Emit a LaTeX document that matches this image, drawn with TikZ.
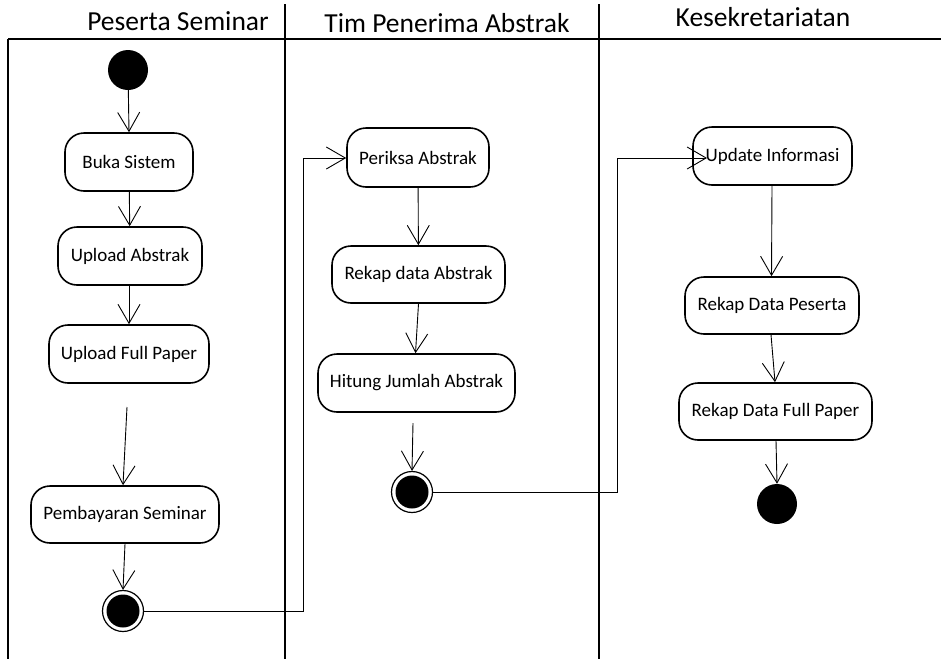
\documentclass[tikz,border=0pt]{standalone}
\usepackage{fontspec}
\setmainfont{Carlito}
\usetikzlibrary{arrows.meta}
\begin{document}
\begin{tikzpicture}[x=1pt,y=-1pt,
  act/.style={draw=black, line width=1.6pt, rounded corners=19pt, fill=white,
    inner sep=0pt, font=\fontsize{19}{21}\selectfont},
  hdr/.style={anchor=base, inner sep=0pt, font=\fontsize{27.5}{30}\selectfont},
  lane/.style={line width=1.8pt, black},
  flow/.style={line width=0.9pt, -{Straight Barb[length=19pt,width=22pt,line width=0.9pt]}},
  startnode/.style={circle, fill=black, minimum size=40pt, inner sep=0pt},
  endnode/.style={circle, draw=black, line width=1.2pt, fill=white, minimum size=41pt, inner sep=0pt,
    path picture={\fill[black] (path picture bounding box.center) circle (16.5pt);}}
]
\useasboundingbox (0,0) rectangle (941,659);
% frame
\draw[lane] (8,39) -- (941,39);
\draw[lane] (8,39) -- (8,659);
\draw[lane] (285,4) -- (285,659);
\draw[lane] (599,4) -- (599,659);
% headers
\node[hdr] (h1) at (178,30) {Peserta Seminar};
\node[hdr] (h2) at (447,32) {Tim Penerima Abstrak};
\node[hdr] (h3) at (763,26) {Kesekretariatan};
% lane 1
\node[startnode] (s1) at (128,70) {};
\node[act, minimum width=128pt, minimum height=58pt] (buka) at (129,162) {Buka Sistem};
\node[act, minimum width=144pt, minimum height=58pt] (upabs) at (130,256) {Upload Abstrak};
\node[act, minimum width=160pt, minimum height=58pt] (upfull) at (129,354) {Upload Full Paper};
\coordinate (free1) at (127,407);
\node[act, minimum width=188pt, minimum height=57pt] (bayar) at (125,514.5) {Pembayaran Seminar};
\node[endnode] (e1) at (123,611) {};
% lane 2
\node[act, minimum width=142pt, minimum height=59pt] (periksa) at (418,157.5) {Periksa Abstrak};
\node[act, minimum width=173pt, minimum height=57pt] (rekapabs) at (418.5,274.5) {Rekap data Abstrak};
\node[act, minimum width=197pt, minimum height=58pt] (hitung) at (416.5,383) {Hitung Jumlah Abstrak};
\coordinate (free2) at (413,423);
\node[endnode] (e2) at (412,492) {};
% lane 3
\node[act, minimum width=159pt, minimum height=58pt] (update) at (772.5,156) {Update Informasi};
\node[act, minimum width=174pt, minimum height=57pt] (rekappes) at (772,305.5) {Rekap Data Peserta};
\node[act, minimum width=193pt, minimum height=57pt] (rekapfull) at (775.5,411.5) {Rekap Data Full Paper};
\node[startnode] (e3) at (777,504) {};
\coordinate (updin) at (707,158);
% flows
\draw[flow] (s1) -- (buka.north);
\draw[flow] (buka) -- (upabs);
\draw[flow] ([xshift=-1pt]upabs.south) -- (upfull.north);
\draw[flow] (free1) -- ([xshift=-2pt]bayar.north);
\draw[flow] (bayar.south) -- (e1.north);
\draw[flow] (e1.east) -- (303,611) -- (303,158) -- (periksa.west |- 0,158);
\draw[flow] (periksa) -- (rekapabs);
\draw[flow] (rekapabs.south) -- ([xshift=-1pt]hitung.north);
\draw[flow] (free2) -- (e2.north);
\draw[flow] (e2.east) -- (617,492) -- (617,158) -- (updin);
\draw[flow] ([xshift=-0.5pt]update.south) -- ([xshift=-0.5pt]rekappes.north);
\draw[flow] ([xshift=-1pt]rekappes.south) -- ([xshift=-0.5pt]rekapfull.north);
\draw[flow] ([xshift=0.5pt]rekapfull.south) -- (e3.north);
\end{tikzpicture}
\end{document}
